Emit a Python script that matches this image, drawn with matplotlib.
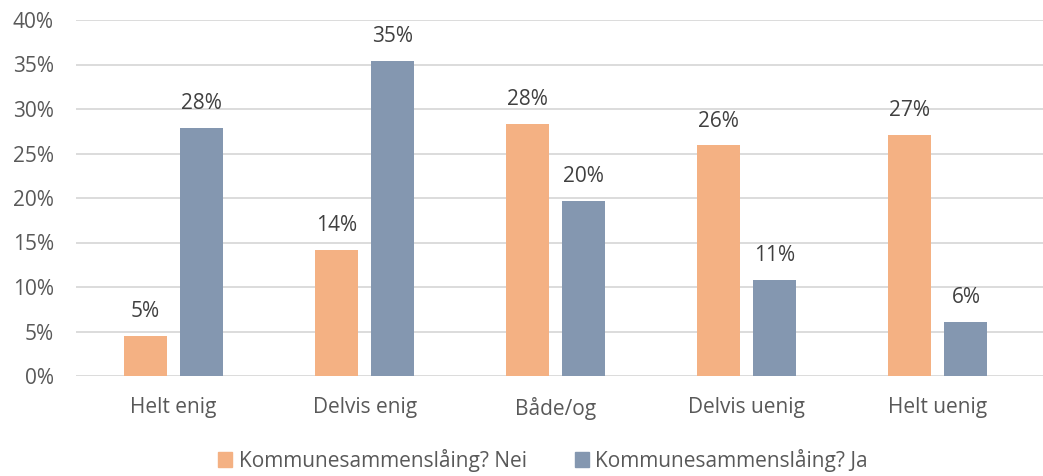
import numpy as np
import matplotlib
matplotlib.use("Agg")
import matplotlib.pyplot as plt
from matplotlib.patches import Patch
from matplotlib.ticker import PercentFormatter

# -----------------------------------------------------------------------------
categories = ["Helt enig", "Delvis enig", "Både/og", "Delvis uenig", "Helt uenig"]
nei = [4.5, 14.2, 28.3, 25.9, 27.1]
ja = [27.9, 35.4, 19.7, 10.8, 6.1]
series_names = ["Kommunesammenslåing? Nei", "Kommunesammenslåing? Ja"]

c_nei = "#F4B183"
c_ja = "#8497B0"
text_col = "#595959"
fs = 15

plt.rcParams["font.family"] = ["Open Sans", "DejaVu Sans"]

fig = plt.figure(figsize=(10.43, 4.76), dpi=100)
ax = fig.add_axes([76 / 1043, 1 - 376 / 476, (1043 - 76) / 1043, (376 - 20) / 476])

x = np.arange(len(categories))
w = 0.225
off = 0.147
b1 = ax.bar(x - off, nei, w, color=c_nei, zorder=3)
b2 = ax.bar(x + off, ja, w, color=c_ja, zorder=3)

# data labels (round half up like Excel)
for bars, vals in ((b1, nei), (b2, ja)):
    for r, v in zip(bars, vals):
        ax.annotate(f"{int(v + 0.5)}%", (r.get_x() + r.get_width() / 2, v),
                    xytext=(0, 10), textcoords="offset points",
                    ha="center", va="bottom", fontsize=fs, color="#404040")

ax.set_ylim(0, 40)
ax.set_xlim(-0.51, 4.55)
ax.set_yticks(np.arange(0, 41, 5))
ax.yaxis.set_major_formatter(PercentFormatter(decimals=0))
ax.set_xticks(x)
ax.set_xticklabels(categories)
ax.tick_params(axis="both", length=0, labelsize=fs, labelcolor=text_col)
ax.tick_params(axis="y", pad=16)
ax.tick_params(axis="x", pad=15)
ax.grid(axis="y", color="#D9D9D9", linewidth=1.3, zorder=0)
for s in ax.spines.values():
    s.set_visible(False)

handles = [Patch(color=c_nei), Patch(color=c_ja)]
fig.legend(handles, series_names, loc="center", bbox_to_anchor=(543 / 1043, 1 - 460 / 476),
           ncol=2, frameon=False, fontsize=fs, labelcolor=text_col,
           handlelength=0.7, handleheight=0.7, handletextpad=0.3, columnspacing=2.3)

plt.savefig("out.png", dpi=100)
plt.close()
